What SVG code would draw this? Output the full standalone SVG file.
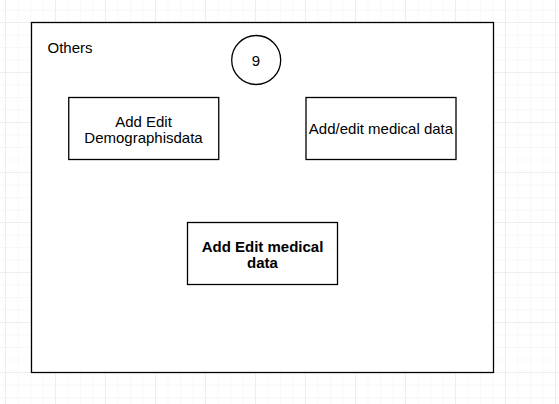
<svg xmlns="http://www.w3.org/2000/svg" width="559" height="404" viewBox="0 0 559 404">
<defs>
<pattern id="minor" x="5" y="22" width="12.5" height="12.5" patternUnits="userSpaceOnUse">
<path d="M0 0V12.5M0 0H12.5" fill="none" stroke="#f1f1f1" stroke-width="1"/>
</pattern>
<pattern id="major" x="5" y="22" width="50" height="50" patternUnits="userSpaceOnUse">
<path d="M0 0V50M0 0H50" fill="none" stroke="#e4e4e4" stroke-width="1"/>
</pattern>
</defs>
<style>
.box{fill:#fff;stroke:#000;stroke-width:1.3}
.t{font-family:"Liberation Sans",Arial,sans-serif;font-size:15px;fill:#000}
.c{text-anchor:middle}
.b{font-weight:bold}
</style>
<rect width="559" height="404" fill="#fff"/>
<rect width="559" height="404" fill="url(#minor)"/>
<rect width="559" height="404" fill="url(#major)"/>
<g id="others">
<rect class="box" x="31.5" y="22.5" width="462" height="350"/>
<text class="t" x="47.5" y="52.7">Others</text>
</g>
<g id="circle9">
<circle class="box" cx="256.2" cy="60" r="24.5"/>
<text class="t c" x="256" y="66">9</text>
</g>
<g id="demographics">
<rect class="box" x="68.75" y="97.5" width="150" height="62"/>
<text class="t c" x="143.5" y="126.7">Add Edit</text>
<text class="t c" x="143.5" y="143.3">Demographisdata</text>
</g>
<g id="medical">
<rect class="box" x="306" y="97.5" width="150" height="62"/>
<text class="t c" x="381" y="134.3">Add/edit medical data</text>
</g>
<g id="medical-bold">
<rect class="box" x="187.5" y="222.5" width="150" height="62"/>
<text class="t c b" x="262.5" y="251.7">Add Edit medical</text>
<text class="t c b" x="262.5" y="267.7">data</text>
</g>
<g id="connectors"/>
</svg>
